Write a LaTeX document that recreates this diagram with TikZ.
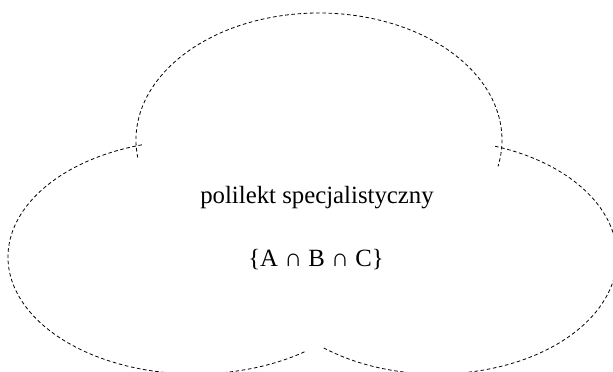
\documentclass[tikz,border=0pt]{standalone}
\usepackage{fontspec}
\setmainfont{Liberation Serif}
\begin{document}
\begin{tikzpicture}[x=1pt,y=1pt,
  cloudline/.style={draw=black, line width=0.8pt, dash pattern=on 3.6pt off 2.6pt},
  label/.style={anchor=base, inner sep=0pt, font=\fontsize{24.8}{30}\selectfont}]
\useasboundingbox (0,0) rectangle (613,372);
\clip (0,0) rectangle (613,372);
% centres of the three puffs
\coordinate (ctop) at (319,232);
\coordinate (cleft) at (195,115);
\coordinate (cright) at (437,115);
% top puff
\draw[cloudline] (ctop) ++(188:183 and 127) arc[start angle=188, end angle=-12, x radius=183, y radius=127];
% left puff
\draw[cloudline] (cleft) ++(106.5:187 and 117) arc[start angle=106.5, end angle=306, x radius=187, y radius=117];
% right puff
\draw[cloudline] (cright) ++(231:180 and 117) arc[start angle=231, end angle=431.5, x radius=180, y radius=117];
% texts
\node[label] (t1) at (317,168) {polilekt specjalistyczny};
\node[label] (t2) at (316,105) {\{A ∩ B ∩ C\}};
\end{tikzpicture}
\end{document}
